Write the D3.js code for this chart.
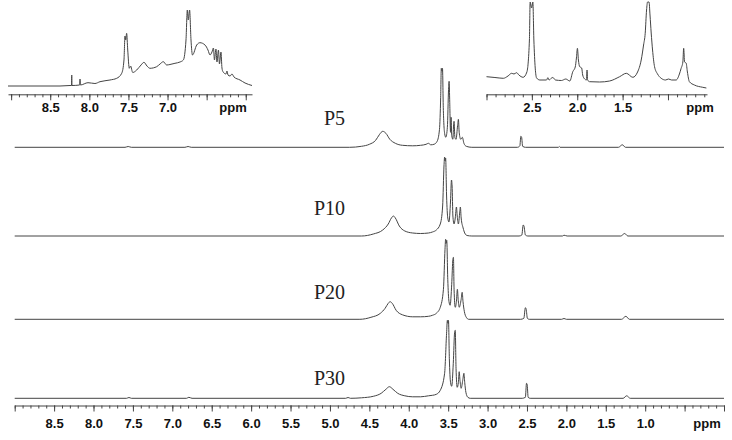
<!DOCTYPE html>
<html>
<head>
<meta charset="utf-8">
<script src="https://cdn.jsdelivr.net/npm/d3@7"></script>
<style>
  body { margin: 0; background: #fff; }
  svg { display: block; }
</style>
</head>
<body>
<div id="chart"></div>
<script>
// Spectra: [ppm, intensity] vertices
const traceNames = ["P5", "P10", "P20", "P30"];

const p5 = [[9,0],[7.6,0],[7.56,0.8],[7.52,0],[6.84,0],[6.8,0.8],[6.76,0],[4.75,0],[4.6,1],[4.5,3],[4.42,7],[4.37,13],[4.33,16],[4.29,14],[4.24,8],[4.17,4],[4.08,2],[3.95,1.5],[3.85,2],[3.78,3],[3.75,4],[3.72,2.5],[3.68,3],[3.64,6],[3.61,18],[3.595,50],[3.587,79],[3.578,76],[3.572,79],[3.562,40],[3.545,14],[3.53,10],[3.51,20],[3.495,58],[3.488,66],[3.48,45],[3.47,15],[3.463,30],[3.455,12],[3.44,8],[3.43,24],[3.425,26],[3.415,10],[3.4,8],[3.38,22],[3.37,28],[3.36,15],[3.34,8],[3.32,10],[3.3,4],[3.27,1],[3.2,0],[2.62,0],[2.59,1.5],[2.578,11],[2.568,10],[2.555,1],[2.52,0],[2.1,0],[2.09,0.8],[2.08,0],[1.34,0],[1.29,2.5],[1.25,0],[0,0]];

const p10 = [[9,0],[4.6,0],[4.45,2],[4.33,6],[4.26,12],[4.22,18],[4.195,20],[4.17,18],[4.12,10],[4.05,5],[3.95,3],[3.85,2.5],[3.75,3],[3.7,4],[3.65,6],[3.6,12],[3.57,30],[3.553,70],[3.545,79],[3.538,75],[3.532,78],[3.52,40],[3.505,18],[3.49,14],[3.47,35],[3.458,56],[3.45,50],[3.44,20],[3.425,12],[3.41,18],[3.395,29],[3.385,20],[3.37,12],[3.355,22],[3.345,29],[3.335,18],[3.31,8],[3.29,3],[3.26,0.5],[3.2,0],[2.6,0],[2.565,1],[2.548,11],[2.538,10],[2.52,1],[2.49,0],[2.05,0],[2.03,0.8],[1.99,0],[1.31,0],[1.26,2.5],[1.22,0],[0,0]];

const p20 = [[9,0],[4.62,0],[4.48,2],[4.36,6],[4.3,11],[4.26,16],[4.237,17.6],[4.21,16],[4.16,9],[4.08,4.5],[3.95,2.5],[3.85,2.5],[3.75,3],[3.7,4],[3.65,6],[3.6,12],[3.56,30],[3.54,70],[3.532,80],[3.525,76],[3.518,79],[3.505,40],[3.49,18],[3.475,14],[3.455,35],[3.44,60],[3.433,62],[3.425,30],[3.41,12],[3.395,18],[3.383,30],[3.373,20],[3.36,12],[3.335,20],[3.322,27],[3.312,18],[3.295,8],[3.27,2],[3.24,0],[2.58,0],[2.54,1],[2.52,11.6],[2.51,10],[2.495,1],[2.47,0],[2.06,0],[2.03,0.8],[2.0,0],[1.3,0],[1.245,3],[1.2,0],[0,0]];

const p30 = [[9,0],[7.58,0],[7.55,0.8],[7.52,0],[6.82,0],[6.79,1],[6.75,0],[4.8,0],[4.77,0.8],[4.74,0],[4.6,0.5],[4.45,2],[4.35,5],[4.29,9],[4.246,11.6],[4.2,9],[4.14,5],[4.05,2.5],[3.95,1.5],[3.85,1.5],[3.75,2.5],[3.7,3],[3.65,4],[3.6,8],[3.545,25],[3.52,65],[3.51,78],[3.502,75],[3.496,78],[3.485,40],[3.47,16],[3.455,12],[3.435,35],[3.418,66],[3.41,68],[3.4,30],[3.385,11],[3.37,16],[3.36,26.6],[3.35,18],[3.335,10],[3.315,18],[3.3,25],[3.29,16],[3.275,6],[3.25,1],[3.22,0],[2.56,0],[2.52,1],[2.506,15],[2.498,14],[2.485,1],[2.46,0],[1.28,0],[1.235,2.5],[1.19,0],[0,0]];

const traces = [p5, p10, p20, p30];

// Inset spectra (aromatic and aliphatic regions), [ppm, intensity]
const insetLeft = [[9.04,2],[8.375,2],[8.247,2.5],[8.228,2.5],[8.225,13],[8.222,2.5],[8.124,3],[8.119,9],[8.114,3],[8.017,5.3],[7.928,4.5],[7.864,6.3],[7.736,8],[7.65,9.7],[7.586,14.7],[7.557,28],[7.544,52],[7.535,48],[7.523,54.7],[7.509,38],[7.489,19.7],[7.473,22],[7.445,15.5],[7.394,18],[7.339,23],[7.301,25.7],[7.263,22],[7.224,19.7],[7.139,21.3],[7.096,24],[7.054,26.3],[7.011,23],[6.969,23.5],[6.905,24.7],[6.841,26],[6.798,28],[6.764,48],[6.747,78],[6.735,68],[6.718,78],[6.7,48],[6.681,33],[6.627,43],[6.585,45.3],[6.521,43],[6.483,38],[6.457,33],[6.432,36],[6.413,40],[6.4,28],[6.381,39],[6.368,26],[6.349,38],[6.336,24],[6.317,36],[6.304,20],[6.291,16.3],[6.253,14],[6.24,17],[6.227,13],[6.201,12],[6.176,14],[6.15,11],[6.073,8],[6.009,5],[5.92,2.5]];

const insetRight = [[3.0,13.3],[2.907,12.5],[2.815,11.7],[2.763,14],[2.723,16.7],[2.697,16],[2.668,17.3],[2.643,15],[2.596,12.7],[2.555,18],[2.527,50],[2.519,88],[2.503,82],[2.489,88],[2.478,50],[2.448,12],[2.412,10],[2.338,10],[2.324,12.3],[2.31,10],[2.29,11.5],[2.269,12.5],[2.24,10],[2.174,9.5],[2.126,11],[2.082,9],[2.049,18.3],[2.022,23],[2.009,32],[1.998,41.7],[1.987,30],[1.973,23.3],[1.951,22],[1.94,15],[1.918,11],[1.898,10],[1.892,20],[1.886,10],[1.863,8.3],[1.753,8],[1.643,9],[1.533,13.3],[1.459,16.7],[1.387,12.7],[1.335,18],[1.295,30],[1.269,45],[1.251,56.7],[1.236,80],[1.225,88],[1.209,88],[1.198,75],[1.185,57],[1.17,40],[1.148,23.3],[1.115,16],[1.075,11.7],[1.027,10],[0.994,11],[0.96,10],[0.91,10],[0.874,16],[0.855,21.7],[0.836,28],[0.827,41.7],[0.817,28],[0.8,27],[0.786,18],[0.764,8.3],[0.709,5],[0.617,2.7],[0.577,2]];

// Tick labels
const mainLabels = ["8.5","8.0","7.5","7.0","6.5","6.0","5.5","5.0","4.5","4.0","3.5","3.0","2.5","2.0","1.5","1.0"];
const leftLabels = ["8.5","8.0","7.5","7.0"];
const rightLabels = ["2.5","2.0","1.5"];

const width = 732, height = 440;
const ink = "#444";

const svg = d3.select("#chart").append("svg")
    .attr("width", width)
    .attr("height", height);

// Main scales
const x = d3.scaleLinear().domain([9, 0]).range([14.7, 724]);
const baselines = [147.3, 236, 319.3, 398.3];
const labelY = [125, 215, 299, 385];
const h = d3.scaleLinear().domain([0, 100]).range([0, 100]);

traces.forEach((data, i) => {
    const line = d3.line()
        .x(d => x(d[0]))
        .y(d => baselines[i] - h(d[1]))
        .curve(d3.curveMonotoneX);

    svg.append("path")
        .datum(data)
        .attr("d", line)
        .attr("fill", "none")
        .attr("stroke", ink)
        .attr("stroke-width", 1);

    svg.append("text")
        .attr("x", 345)
        .attr("y", labelY[i])
        .attr("text-anchor", "end")
        .style("font-family", "'Liberation Serif', 'Times New Roman', serif")
        .style("font-size", "20px")
        .attr("fill", "#222")
        .text(traceNames[i]);
});

// draws a ppm axis with minor ticks every 0.1 and major every 0.5
function ppmAxis(scale, y, lo, hi, labels, ppmX, labelDy) {
    const g = svg.append("g").attr("transform", `translate(0,${y})`);
    const minors = d3.range(Math.round(lo * 10), Math.round(hi * 10) + 1).map(v => v / 10);
    const majors = minors.filter(v => Math.abs(v * 2 - Math.round(v * 2)) < 1e-6);

    g.append("g")
        .call(d3.axisBottom(scale).tickValues(minors).tickSize(3).tickSizeOuter(0).tickFormat(""))
        .call(a => a.select(".domain").attr("stroke", ink))
        .call(a => a.selectAll("line").attr("stroke", ink));

    g.append("g")
        .call(d3.axisBottom(scale).tickValues(majors).tickSize(6).tickSizeOuter(0)
            .tickFormat(d => labels.includes(d.toFixed(1)) ? d.toFixed(1) : ""))
        .call(a => a.select(".domain").remove())
        .call(a => a.selectAll("line").attr("stroke", ink))
        .call(a => a.selectAll("text")
            .attr("y", labelDy)
            .attr("dy", 0)
            .attr("fill", "#111")
            .style("font-family", "'Liberation Sans', Arial, sans-serif")
            .style("font-weight", "bold")
            .style("font-size", "13px"));

    g.append("text")
        .attr("x", ppmX)
        .attr("y", labelDy)
        .attr("text-anchor", "middle")
        .attr("fill", "#111")
        .style("font-family", "'Liberation Sans', Arial, sans-serif")
        .style("font-weight", "bold")
        .style("font-size", "13px")
        .text("ppm");
}

ppmAxis(x, 405.5, 0, 9, mainLabels, 707, 22);

// Left inset
const xl = d3.scaleLinear().domain([9.04, 5.92]).range([8, 252]);
const yl = d3.scaleLinear().domain([0, 88]).range([88, 0]);
svg.append("path")
    .datum(insetLeft)
    .attr("d", d3.line().x(d => xl(d[0])).y(d => yl(d[1])).curve(d3.curveMonotoneX))
    .attr("fill", "none")
    .attr("stroke", ink)
    .attr("stroke-width", 1);
ppmAxis(xl, 94.3, 6.0, 9.0, leftLabels, 233, 18);

// Right inset
const xr = d3.scaleLinear().domain([3.0, 0.57]).range([486.5, 707]);
const yr = d3.scaleLinear().domain([0, 90]).range([90, 0]);
svg.append("path")
    .datum(insetRight)
    .attr("d", d3.line().x(d => xr(d[0])).y(d => yr(d[1])).curve(d3.curveMonotoneX))
    .attr("fill", "none")
    .attr("stroke", ink)
    .attr("stroke-width", 1);
ppmAxis(xr, 94.3, 0.6, 3.0, rightLabels, 700, 18);
</script>
</body>
</html>
